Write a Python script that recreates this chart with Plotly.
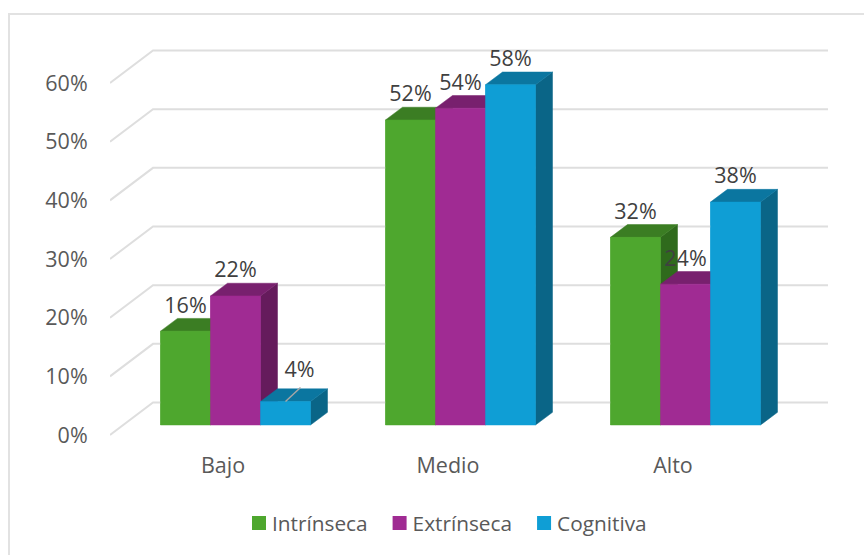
import plotly.graph_objects as go

categories = ["Bajo", "Medio", "Alto"]
series_names = ["Intrínseca", "Extrínseca", "Cognitiva"]
intrinseca = [16, 52, 32]
extrinseca = [22, 54, 24]
cognitiva = [4, 58, 38]
y_ticks = [0, 10, 20, 30, 40, 50, 60]

series = [intrinseca, extrinseca, cognitiva]
front_col = ["#4EA72E", "#A02B93", "#0F9ED5"]
top_col = ["#3B7D23", "#78206E", "#0B76A0"]
side_col = ["#2F6A1C", "#651B5C", "#0A6587"]
FONT = "Open Sans"
SIZE = 21.5
LEGEND_SIZE = 20.8

# pixel geometry of the plot area -> axis scales
L, R, T, B = 110, 830, 40, 450
PX_X = 225.0          # pixels per category
PX_Y = 5.8667         # pixels per percentage point
X0, Y0 = 223, 435     # pixel of x=0, y=0
xr = [(L - X0) / PX_X, (R - X0) / PX_X]
yr = [(Y0 - B) / PX_Y, (Y0 - T) / PX_Y]

WALL_DX, WALL_DY = 43 / PX_X, 32.5 / PX_Y
GRID_END = (828 - X0) / PX_X
BASE = 10 / PX_Y
BAR_W = 50 / PX_X
DX, DY = 17 / PX_X, 12.7 / PX_Y
GROUP_SHIFT = 12.5 / PX_X
LABEL_UP = 24 / PX_Y

fig = go.Figure()

# legend / semantic bars
for s, vals in enumerate(series):
    fig.add_trace(go.Bar(
        x=[i + GROUP_SHIFT + (s - 1) * BAR_W for i in range(len(categories))],
        y=vals, base=BASE, width=BAR_W, name=series_names[s],
        marker=dict(color=front_col[s], line=dict(width=0)),
        hoverinfo="skip"))

# walls and gridlines
for t in y_ticks:
    fig.add_trace(go.Scatter(
        x=[xr[0], xr[0] + WALL_DX, GRID_END],
        y=[t, t + WALL_DY, t + WALL_DY],
        mode="lines", line=dict(color="#DEDEDE", width=2),
        showlegend=False, hoverinfo="skip"))


def poly(xs, ys, color):
    fig.add_trace(go.Scatter(
        x=xs, y=ys, mode="lines", fill="toself", fillcolor=color,
        line=dict(color=color, width=0.5),
        showlegend=False, hoverinfo="skip"))


# painter's order: left to right inside each category
for i in range(len(categories)):
    for s, vals in enumerate(series):
        v = vals[i] + BASE
        x0 = i + GROUP_SHIFT + (s - 1.5) * BAR_W
        x1 = x0 + BAR_W
        poly([x1, x1 + DX, x1 + DX, x1, x1],
             [BASE, BASE + DY, v + DY, v, BASE], side_col[s])
        poly([x0, x1, x1 + DX, x0 + DX, x0],
             [v, v, v + DY, v + DY, v], top_col[s])
        poly([x0, x1, x1, x0, x0], [BASE, BASE, v, v, BASE], front_col[s])

# data labels
lab_x, lab_y, lab_t = [], [], []
for s, vals in enumerate(series):
    for i, val in enumerate(vals):
        x = i + GROUP_SHIFT + (s - 1) * BAR_W
        y = val + BASE + LABEL_UP
        if val == 4:               # moved label with leader line
            fig.add_trace(go.Scatter(
                x=[x, x + 15 / PX_X], y=[val + BASE, val + BASE + 14 / PX_Y],
                mode="lines", line=dict(color="#A6A6A6", width=1.5),
                showlegend=False, hoverinfo="skip"))
            x += 14 / PX_X
            y += 6 / PX_Y
        lab_x.append(x)
        lab_y.append(y)
        lab_t.append(f"{val}%")
fig.add_trace(go.Scatter(
    x=lab_x, y=lab_y, text=lab_t, mode="text", textposition="middle center",
    textfont=dict(family=FONT, size=SIZE, color="#404040"),
    showlegend=False, hoverinfo="skip"))

px = lambda p: (p - L) / (R - L)
py = lambda p: (B - p) / (B - T)
fig.add_shape(type="path", xref="paper", yref="paper",
              path=f"M {px(9)} {py(560)} L {px(9)} {py(14)} L {px(870)} {py(14)}",
              line=dict(color="#E2E2E2", width=2), layer="below")

fig.update_layout(
    width=864, height=555, margin=dict(l=L, r=864 - R, t=T, b=555 - B, autoexpand=False),
    paper_bgcolor="white", plot_bgcolor="white", barmode="overlay",
    font=dict(family=FONT, size=SIZE, color="#595959"),
    xaxis=dict(range=xr, tickmode="array", tickvals=list(range(len(categories))),
               ticktext=categories, showgrid=False, zeroline=False, showline=False,
               ticks="", automargin=False),
    yaxis=dict(range=yr, tickmode="array", tickvals=y_ticks,
               ticktext=[f"{t}%" for t in y_ticks], showgrid=False, zeroline=False,
               showline=False, ticks="outside", ticklen=17,
               tickcolor="rgba(0,0,0,0)", automargin=False),
    legend=dict(orientation="h", x=px(442), xanchor="center", y=py(523.5), yanchor="middle",
                font=dict(family=FONT, size=LEGEND_SIZE, color="#595959"),
                itemwidth=30, traceorder="normal", bgcolor="rgba(0,0,0,0)"),
    showlegend=True,
)

fig.write_html(
    "out.html",
    config={"displayModeBar": False},
    post_script=(
        "document.body.style.margin='0';"
        "document.querySelectorAll('.legendsymbols').forEach(function(g){"
        "g.setAttribute('transform','translate(7,0)');});"
        "document.querySelectorAll('.legendsymbols path').forEach(function(p){"
        "p.setAttribute('d','M7,7H-7V-7H7Z');});"
    ),
)
